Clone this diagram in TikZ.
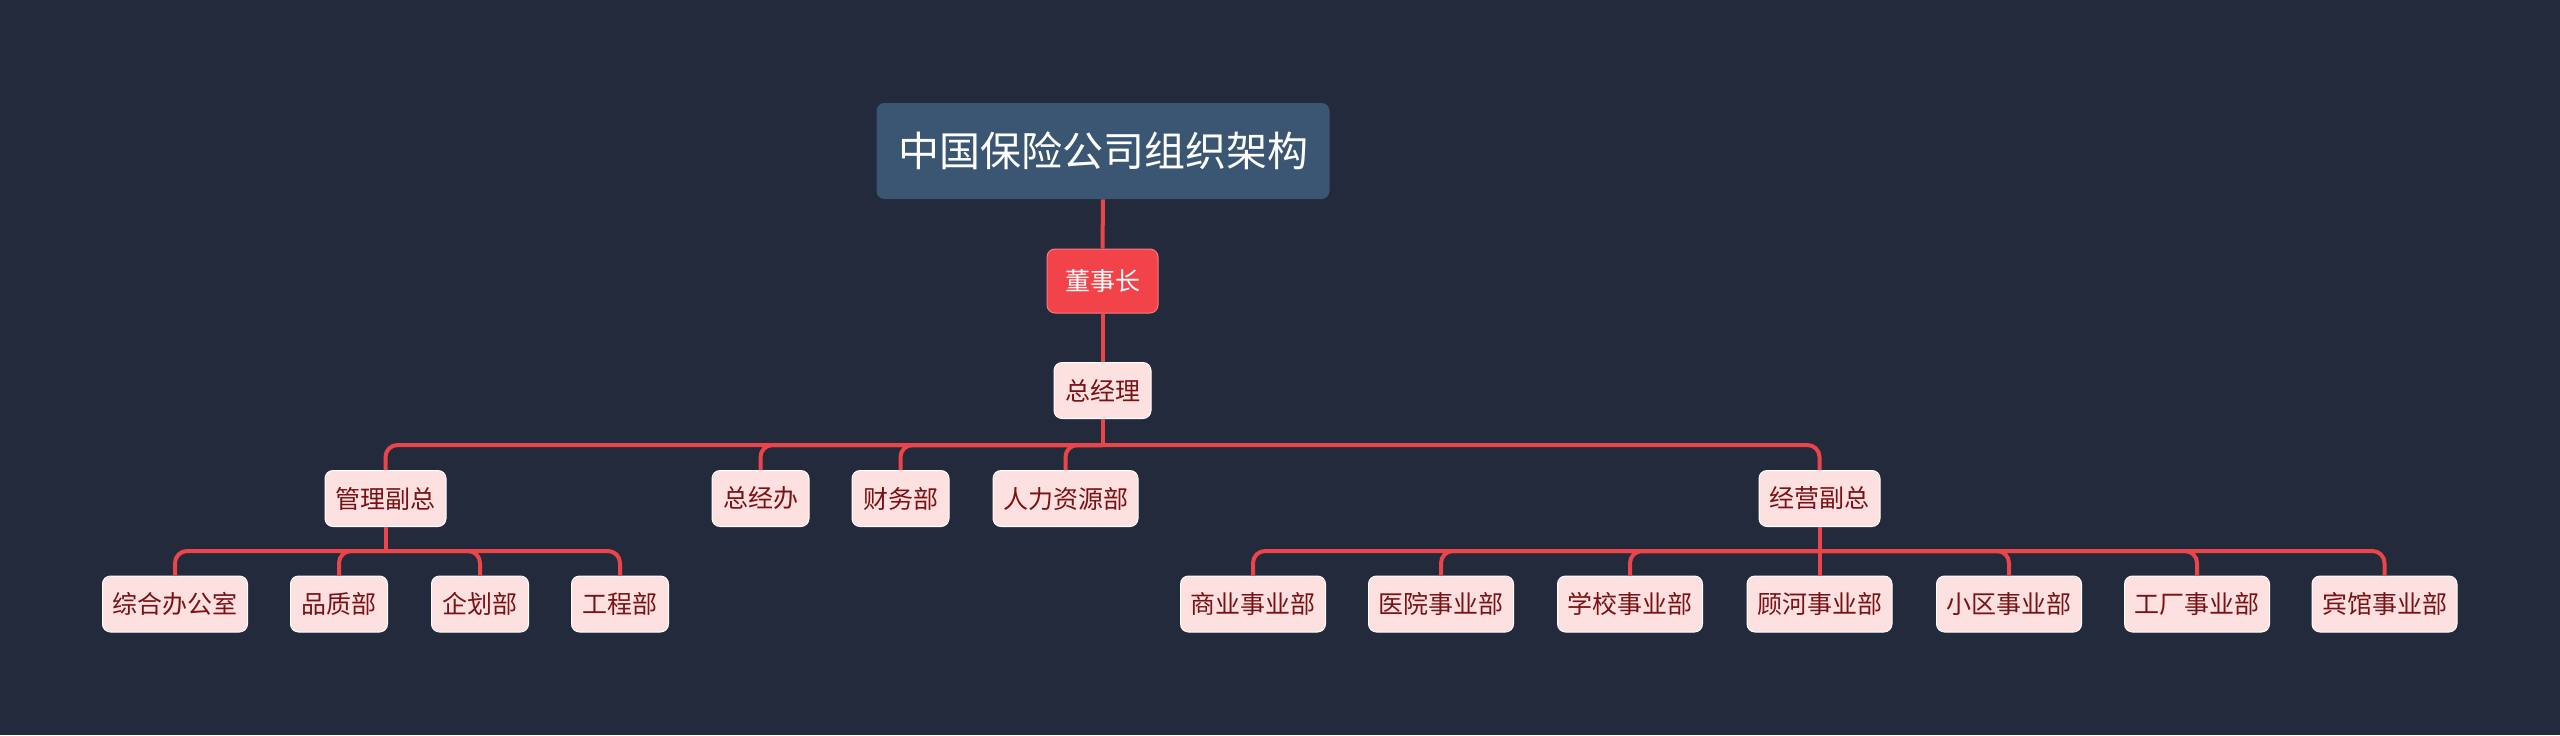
\documentclass[tikz,border=0pt]{standalone}
\usepackage{fontspec}
\setmainfont{Noto Sans CJK SC}
\definecolor{bgc}{HTML}{232A3B}
\definecolor{rootc}{HTML}{3A5672}
\definecolor{redc}{HTML}{F2434A}
\definecolor{linec}{HTML}{EC4549}
\definecolor{pinkc}{HTML}{FDE1E0}
\definecolor{txtc}{HTML}{7A1215}
\tikzset{
  base/.style={rounded corners=4pt, inner sep=0pt, align=center},
  rootbox/.style={base, fill=rootc, text=white, minimum width=226.5pt, minimum height=48pt, font=\fontsize{20.5pt}{24pt}\selectfont},
  chairbox/.style={base, fill=redc, text=white, draw=redc!70!white, line width=0.5pt, minimum height=32pt, font=\fontsize{12.5pt}{15pt}\selectfont},
  pinkbox/.style={base, fill=pinkc, text=txtc, draw=white, line width=0.5pt, minimum height=28pt, font=\fontsize{12.5pt}{15pt}\selectfont},
  conn/.style={draw=linec, line width=2pt},
  rconn/.style={conn, rounded corners=6pt},
}
\begin{document}
\begin{tikzpicture}[x=0.5pt,y=-0.5pt]
\fill[bgc] (0,0) rectangle (2560,735);
\useasboundingbox (0,0) rectangle (2560,735);
\coordinate (busA) at (0,445);
\coordinate (busB) at (0,551);
% nodes
\node[rootbox] (root) at (1103,151) {中国保险公司组织架构};
\node[chairbox, minimum width=55.5pt] (dsz) at (1102.5,281) {董事长};
\node[pinkbox, minimum width=48.5pt] (zjl) at (1102.5,390.5) {总经理};
\node[pinkbox, minimum width=60.5pt] (glfz) at (385.5,498.5) {管理副总};
\node[pinkbox, minimum width=48.5pt] (zjb) at (760.5,498.5) {总经办};
\node[pinkbox, minimum width=48.5pt] (cwb) at (900.5,498.5) {财务部};
\node[pinkbox, minimum width=72.5pt] (rlzy) at (1065.5,498.5) {人力资源部};
\node[pinkbox, minimum width=60.5pt] (jyfz) at (1819.5,498.5) {经营副总};
\node[pinkbox, minimum width=72.5pt] (zhbgs) at (175,604) {综合办公室};
\node[pinkbox, minimum width=48.5pt] (pzb) at (339,604) {品质部};
\node[pinkbox, minimum width=48.5pt] (qhb) at (480,604) {企划部};
\node[pinkbox, minimum width=48.5pt] (gcb) at (620,604) {工程部};
\node[pinkbox, minimum width=72.5pt] (sy) at (1253,604) {商业事业部};
\node[pinkbox, minimum width=72.5pt] (yy) at (1441,604) {医院事业部};
\node[pinkbox, minimum width=72.5pt] (xx) at (1630,604) {学校事业部};
\node[pinkbox, minimum width=72.5pt] (gh) at (1819.5,604) {顾河事业部};
\node[pinkbox, minimum width=72.5pt] (xq) at (2009,604) {小区事业部};
\node[pinkbox, minimum width=72.5pt] (gc) at (2197,604) {工厂事业部};
\node[pinkbox, minimum width=72.5pt] (bg) at (2384.5,604) {宾馆事业部};
% connectors
\begin{scope}[on background layer/.style={}]
\draw[conn] (root.south) -- (dsz.north);
\draw[conn] (dsz.south) -- (zjl.north);
\draw[conn] (zjl.south) -- (zjl.south |- busA);
\foreach \c in {glfz,zjb,cwb,rlzy,jyfz}
  \draw[rconn] (zjl.south |- busA) -| (\c.north);
\draw[conn] (glfz.south) -- (glfz.south |- busB);
\foreach \c in {zhbgs,pzb,qhb,gcb}
  \draw[rconn] (glfz.south |- busB) -| (\c.north);
\draw[conn] (jyfz.south) -- (jyfz.south |- busB);
\foreach \c in {sy,yy,xx,xq,gc,bg}
  \draw[rconn] (jyfz.south |- busB) -| (\c.north);
\draw[conn] (jyfz.south |- busB) -- (gh.north);
\end{scope}
\end{tikzpicture}
\end{document}
